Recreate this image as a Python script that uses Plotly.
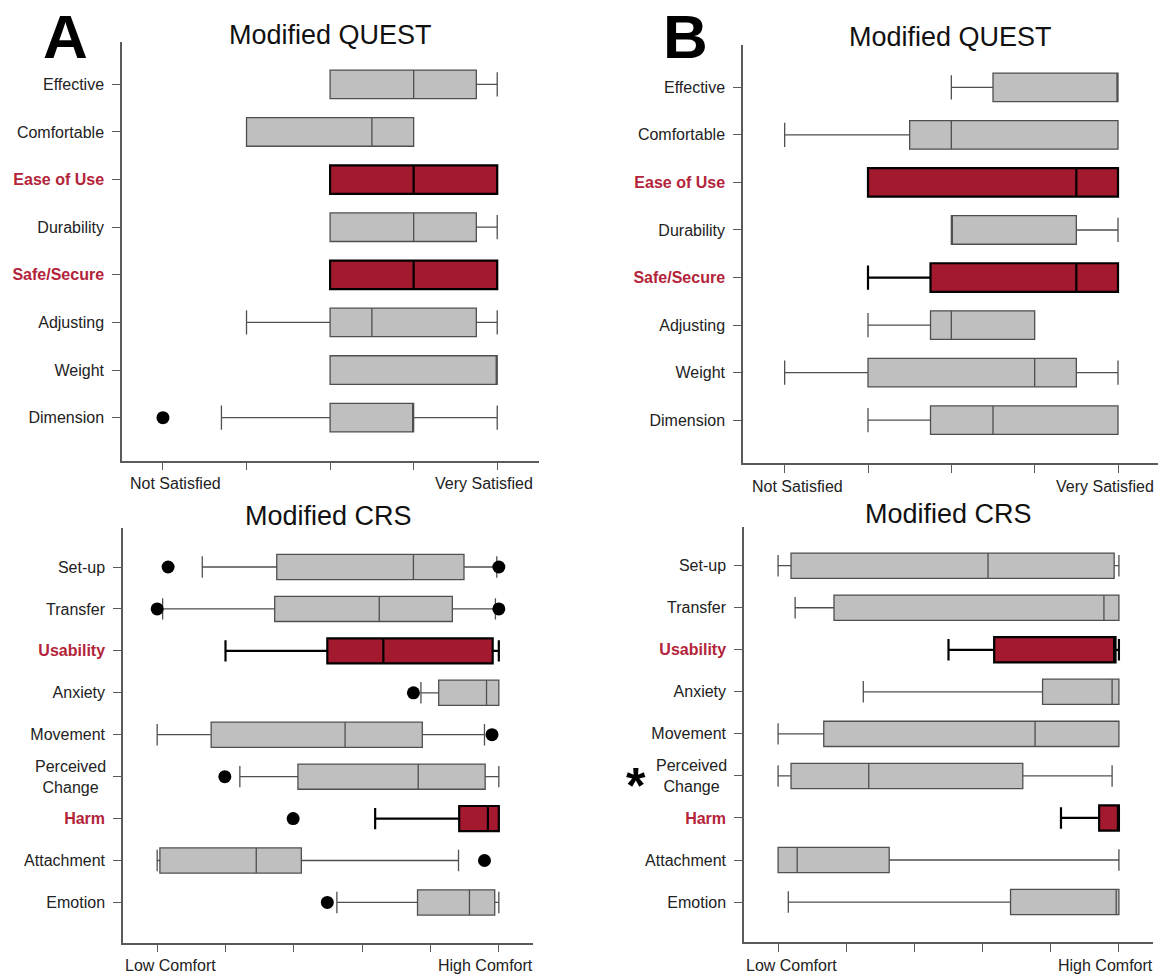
import plotly.graph_objects as go

W, H = 1163, 976
FONT = "Liberation Sans, Arial, sans-serif"
GREY_FILL = "#BFBFBF"
GREY_LINE = "#4F4F4F"
RED_FILL = "#A3192E"
RED_TEXT = "#B3243A"
AXIS_COLOR = "#5A5A5A"
TEXT_COLOR = "#222222"

QUEST_CATS = ["Effective", "Comfortable", "Ease of Use", "Durability",
              "Safe/Secure", "Adjusting", "Weight", "Dimension"]
CRS_CATS = ["Set-up", "Transfer", "Usability", "Anxiety", "Movement",
            "Perceived Change", "Harm", "Attachment", "Emotion"]
QUEST_HIGHLIGHT = ["Ease of Use", "Safe/Secure"]
CRS_HIGHLIGHT = ["Usability", "Harm"]

QUEST_AXIS_LABELS = ["Not Satisfied", "Very Satisfied"]
CRS_AXIS_LABELS = ["Low Comfort", "High Comfort"]
QUEST_TICKS = [1, 2, 3, 4, 5]
CRS_TICKS = [0, 1, 2, 3, 4, 5]

# ---- Panel A: Modified QUEST (1 = Not Satisfied ... 5 = Very Satisfied)
a_quest_low = [3, 2, 3, 3, 3, 2, 3, 1.7]
a_quest_q1 = [3, 2, 3, 3, 3, 3, 3, 3]
a_quest_med = [4, 3.5, 4, 4, 4, 3.5, 5, 4]
a_quest_q3 = [4.75, 4, 5, 4.75, 5, 4.75, 5, 4]
a_quest_high = [5, 4, 5, 5, 5, 5, 5, 5]
a_quest_out_cat = ["Dimension"]
a_quest_out_val = [1]

# ---- Panel A: Modified CRS (0 = Low Comfort ... 5 = High Comfort)
a_crs_low = [0.66, 0.08, 1.0, 3.86, 0.0, 1.21, 3.19, 0.0, 2.63]
a_crs_q1 = [1.75, 1.72, 2.49, 4.12, 0.79, 2.06, 4.42, 0.04, 3.81]
a_crs_med = [3.75, 3.25, 3.31, 4.82, 2.75, 3.82, 4.84, 1.45, 4.57]
a_crs_q3 = [4.49, 4.32, 4.91, 5.0, 3.88, 4.80, 5.0, 2.11, 4.94]
a_crs_high = [4.97, 4.95, 5.0, 5.0, 4.79, 5.0, 5.0, 4.41, 5.0]
a_crs_out_cat = ["Set-up", "Set-up", "Transfer", "Transfer", "Anxiety",
                 "Movement", "Perceived Change", "Harm", "Attachment", "Emotion"]
a_crs_out_val = [0.16, 5.0, 0.0, 5.0, 3.75, 4.9, 0.99, 1.99, 4.79, 2.49]

# ---- Panel B: Modified QUEST
b_quest_low = [3, 1, 2, 3, 2, 2, 1, 2]
b_quest_q1 = [3.5, 2.5, 2, 3, 2.75, 2.75, 2, 2.75]
b_quest_med = [5, 3, 4.5, 3, 4.5, 3, 4, 3.5]
b_quest_q3 = [5, 5, 5, 4.5, 5, 4, 4.5, 5]
b_quest_high = [5, 5, 5, 5, 5, 4, 5, 5]

# ---- Panel B: Modified CRS
b_crs_low = [0.0, 0.25, 2.5, 1.25, 0.0, 0.0, 4.15, 0.0, 0.15]
b_crs_q1 = [0.19, 0.82, 3.17, 3.88, 0.67, 0.19, 4.71, 0.0, 3.41]
b_crs_med = [3.08, 4.78, 4.93, 4.9, 3.77, 1.33, 5.0, 0.28, 4.96]
b_crs_q3 = [4.93, 5.0, 4.95, 5.0, 5.0, 3.59, 5.0, 1.63, 5.0]
b_crs_high = [5.0, 5.0, 5.0, 5.0, 5.0, 4.9, 5.0, 5.0, 5.0]
b_crs_flag = "Perceived Change"   # marked with an asterisk


def px_x(x0, x1):
    return [x0 / W, x1 / W]


def px_y(y_top, y_bottom):
    return [1 - y_bottom / H, 1 - y_top / H]


fig = go.Figure()
annotations = []

panels = [
    dict(n="", cats=QUEST_CATS, hl=QUEST_HIGHLIGHT,
         stats=(a_quest_low, a_quest_q1, a_quest_med, a_quest_q3, a_quest_high),
         out=(a_quest_out_cat, a_quest_out_val),
         xd=(122, 539), yd=(42, 460.5), xr=[0.51, 5.5], yr=[7.9, -0.89],
         ticks=QUEST_TICKS, labels=QUEST_AXIS_LABELS, title="Modified QUEST",
         title_shift=7),
    dict(n="2", cats=CRS_CATS, hl=CRS_HIGHLIGHT,
         stats=(a_crs_low, a_crs_q1, a_crs_med, a_crs_q3, a_crs_high),
         out=(a_crs_out_cat, a_crs_out_val),
         xd=(123, 533), yd=(528, 942.7), xr=[-0.5, 5.5], yr=[8.96, -0.93],
         ticks=CRS_TICKS, labels=CRS_AXIS_LABELS, title="Modified CRS",
         title_shift=12),
    dict(n="3", cats=QUEST_CATS, hl=QUEST_HIGHLIGHT,
         stats=(b_quest_low, b_quest_q1, b_quest_med, b_quest_q3, b_quest_high),
         out=None,
         xd=(743, 1158), yd=(45, 463), xr=[0.5, 5.48], yr=[7.9, -0.89],
         ticks=QUEST_TICKS, labels=QUEST_AXIS_LABELS, title="Modified QUEST",
         title_shift=7.5),
    dict(n="4", cats=CRS_CATS, hl=CRS_HIGHLIGHT,
         stats=(b_crs_low, b_crs_q1, b_crs_med, b_crs_q3, b_crs_high),
         out=None,
         xd=(744, 1153), yd=(527, 942), xr=[-0.5, 5.5], yr=[8.95, -0.92],
         ticks=CRS_TICKS, labels=CRS_AXIS_LABELS, title="Modified CRS",
         title_shift=13),
]

for p in panels:
    xa, ya = "x" + p["n"], "y" + p["n"]
    low, q1, med, q3, high = p["stats"]
    for highlighted in (False, True):
        idx = [i for i, c in enumerate(p["cats"]) if (c in p["hl"]) == highlighted]
        fig.add_trace(go.Box(
            orientation="h",
            y=[p["cats"][i] for i in idx],
            lowerfence=[low[i] for i in idx],
            q1=[q1[i] for i in idx],
            median=[med[i] for i in idx],
            q3=[q3[i] for i in idx],
            upperfence=[high[i] for i in idx],
            width=0.6,
            whiskerwidth=0.85,
            fillcolor=RED_FILL if highlighted else GREY_FILL,
            line=dict(color="#000000" if highlighted else GREY_LINE,
                      width=2.2 if highlighted else 1.3),
            boxpoints=False,
            showlegend=False,
            hoverinfo="skip",
            xaxis=xa, yaxis=ya,
        ))
    if p["out"]:
        cats_o, vals_o = p["out"]
        fig.add_trace(go.Scatter(
            x=vals_o, y=cats_o, mode="markers",
            marker=dict(color="black", size=13),
            showlegend=False, hoverinfo="skip",
            xaxis=xa, yaxis=ya,
        ))

    ticktext = []
    for c in p["cats"]:
        if c == "Perceived Change":
            ticktext.append("")
        elif c in p["hl"]:
            ticktext.append(f"<b><span style='color:{RED_TEXT}'>{c}</span></b>")
        else:
            ticktext.append(c)

    axis_common = dict(showline=True, linecolor=AXIS_COLOR, linewidth=1.5,
                       ticks="outside", ticklen=8, tickwidth=1.3,
                       tickcolor=AXIS_COLOR, showgrid=False, zeroline=False,
                       tickfont=dict(family=FONT, size=16, color=TEXT_COLOR))
    fig.update_layout(**{
        ("xaxis" + p["n"]): dict(axis_common, domain=px_x(*p["xd"]), range=p["xr"],
                                 tickvals=p["ticks"], ticktext=[""] * len(p["ticks"]),
                                 anchor=ya),
        ("yaxis" + p["n"]): dict(axis_common, domain=px_y(*p["yd"]), range=p["yr"],
                                 type="category", categoryarray=p["cats"],
                                 tickvals=p["cats"], ticktext=ticktext,
                                 ticklabelstandoff=5, anchor=xa),
    })

    # end-of-scale labels under the x axis
    for val, txt, shift in ((p["ticks"][0], p["labels"][0], 13),
                            (p["ticks"][-1], p["labels"][1], -13)):
        annotations.append(dict(
            x=val, y=0, xref=xa, yref=f"{ya} domain", text=txt,
            showarrow=False, xanchor="center", yanchor="middle",
            xshift=shift, yshift=-23,
            font=dict(family=FONT, size=16, color=TEXT_COLOR)))

    # two-line category label, centred
    if "Perceived Change" in p["cats"]:
        annotations.append(dict(
            x=0, y="Perceived Change", xref=f"{xa} domain", yref=ya,
            text="Perceived<br>Change", align="center", showarrow=False,
            xanchor="right", yanchor="middle", xshift=-15,
            font=dict(family=FONT, size=16, color=TEXT_COLOR)))

    # panel title
    annotations.append(dict(
        x=0.5, y=1, xref=f"{xa} domain", yref=f"{ya} domain",
        text=p["title"], showarrow=False, xanchor="center", yanchor="middle",
        yshift=p["title_shift"],
        font=dict(family=FONT, size=27, color="#111111")))

# panel letters
for letter, xc in (("A", 65.5), ("B", 685)):
    annotations.append(dict(x=xc / W, y=1, xref="paper", yref="paper",
                            text=f"<b>{letter}</b>", showarrow=False,
                            xanchor="center", yanchor="top",
                            font=dict(family=FONT, size=62, color="black")))

# significance marker on panel B CRS
annotations.append(dict(x=0, y=b_crs_flag, xref="x4 domain", yref="y4",
                        text="<b>*</b>", showarrow=False, xanchor="center",
                        yanchor="middle", xshift=-108, yshift=-10,
                        font=dict(family=FONT, size=50, color="black")))

fig.update_layout(
    width=W, height=H,
    margin=dict(l=0, r=0, t=0, b=0),
    paper_bgcolor="white", plot_bgcolor="white",
    boxmode="overlay",
    annotations=annotations,
    font=dict(family=FONT),
)

fig.write_html("out.html")
